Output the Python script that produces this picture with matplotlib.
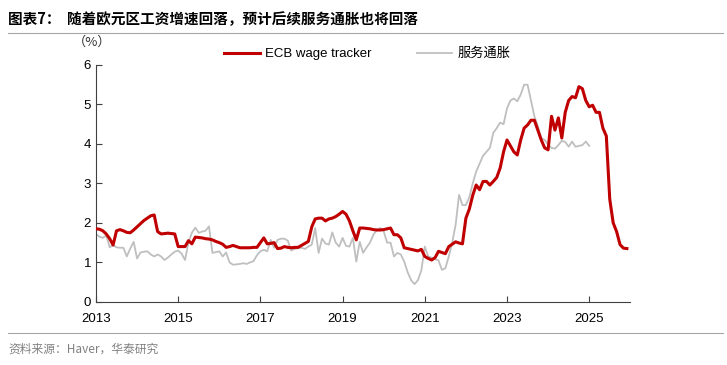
import numpy as np
import matplotlib.pyplot as plt

plt.rcParams['font.family'] = ['Liberation Sans', 'Noto Sans CJK SC', 'DejaVu Sans']

title = "图表7：  随着欧元区工资增速回落，预计后续服务通胀也将回落"
source = "资料来源：Haver，华泰研究"
label_wage = "ECB wage tracker"
label_serv = "服务通胀"

# monthly values, Jan 2013 onwards (%)
wage = [
    1.85, 1.84, 1.80, 1.72, 1.60, 1.44, 1.80, 1.83, 1.80, 1.76, 1.75, 1.82,  # 2013
    1.90, 1.98, 2.06, 2.12, 2.18, 2.20, 1.78, 1.72, 1.73, 1.74, 1.73, 1.72,  # 2014
    1.40, 1.40, 1.40, 1.55, 1.47, 1.64, 1.63, 1.62, 1.60, 1.59, 1.57, 1.53,  # 2015
    1.50, 1.46, 1.38, 1.40, 1.43, 1.40, 1.37, 1.37, 1.37, 1.37, 1.38, 1.38,  # 2016
    1.50, 1.62, 1.47, 1.48, 1.50, 1.35, 1.36, 1.40, 1.38, 1.37, 1.38, 1.38,  # 2017
    1.43, 1.48, 1.53, 1.90, 2.10, 2.12, 2.12, 2.05, 2.10, 2.12, 2.16, 2.22,  # 2018
    2.29, 2.22, 2.05, 1.80, 1.57, 1.87, 1.87, 1.86, 1.85, 1.83, 1.82, 1.82,  # 2019
    1.83, 1.85, 1.87, 1.70, 1.70, 1.62, 1.37, 1.35, 1.33, 1.31, 1.29, 1.33,  # 2020
    1.15, 1.10, 1.06, 1.12, 1.28, 1.25, 1.22, 1.40, 1.46, 1.52, 1.49, 1.47,  # 2021
    2.12, 2.35, 2.70, 2.96, 2.84, 3.05, 3.05, 2.96, 3.05, 3.15, 3.39, 3.80,  # 2022
    4.10, 3.95, 3.80, 3.72, 4.10, 4.40, 4.48, 4.60, 4.60, 4.35, 4.10, 3.90,  # 2023
    3.85, 4.70, 4.35, 4.66, 4.15, 4.80, 5.10, 5.20, 5.17, 5.45, 5.40, 5.10,  # 2024
    4.94, 4.98, 4.80, 4.80, 4.40, 4.20, 2.60, 2.00, 1.78, 1.45, 1.36, 1.35,  # 2025
]

services = [
    1.72, 1.65, 1.62, 1.68, 1.38, 1.44, 1.38, 1.37, 1.37, 1.15, 1.35, 1.52,  # 2013
    1.10, 1.25, 1.27, 1.28, 1.20, 1.15, 1.20, 1.15, 1.06, 1.12, 1.20, 1.27,  # 2014
    1.30, 1.22, 1.06, 1.50, 1.75, 1.88, 1.75, 1.78, 1.80, 1.91, 1.24, 1.26,  # 2015
    1.28, 1.15, 1.25, 1.00, 0.94, 0.95, 0.96, 0.98, 0.96, 1.00, 1.03, 1.18,  # 2016
    1.28, 1.32, 1.28, 1.57, 1.37, 1.57, 1.60, 1.60, 1.55, 1.30, 1.34, 1.36,  # 2017
    1.37, 1.34, 1.40, 1.45, 1.87, 1.24, 1.60, 1.48, 1.45, 1.76, 1.50, 1.40,  # 2018
    1.62, 1.42, 1.40, 1.62, 1.02, 1.52, 1.24, 1.38, 1.50, 1.70, 1.82, 1.87,  # 2019
    1.79, 1.50, 1.50, 1.15, 1.24, 1.20, 1.02, 0.75, 0.55, 0.45, 0.55, 0.80,  # 2020
    1.40, 1.15, 1.12, 1.08, 1.05, 0.81, 0.85, 1.15, 1.50, 1.95, 2.71, 2.45,  # 2021
    2.45, 2.65, 3.00, 3.30, 3.50, 3.70, 3.80, 3.90, 4.28, 4.40, 4.54, 4.50,  # 2022
    4.90, 5.10, 5.15, 5.08, 5.25, 5.50, 5.50, 5.10, 4.70, 4.45, 4.15, 4.10,  # 2023
    3.98, 3.90, 3.88, 3.97, 4.08, 4.05, 3.93, 4.06, 3.93, 3.95, 3.97, 4.06,  # 2024
    3.95,                                                                    # 2025
]

x_wage = 2013 + np.arange(len(wage)) / 12
x_serv = 2013 + np.arange(len(services)) / 12

fig = plt.figure(figsize=(7.27, 3.65), dpi=100)
ax = fig.add_axes([0.132, 0.173, 0.735, 0.649])

ax.plot(x_serv, services, color='#BFBFBF', lw=1.3, label=label_serv, zorder=2)
ax.plot(x_wage, wage, color='#C00000', lw=2.2, label=label_wage, zorder=3)

ax.set_xlim(2013, 2026)
ax.set_ylim(0, 6)
ax.set_xticks(range(2013, 2026, 2))
ax.set_yticks(range(0, 7))
ax.tick_params(direction='in', length=4, labelsize=9.5, color='#404040')
ax.tick_params(axis='x', pad=8)
for s in ['top', 'right']:
    ax.spines[s].set_visible(False)
for s in ['left', 'bottom']:
    ax.spines[s].set_color('#404040')

# legend: red first, gray second
h, l = ax.get_legend_handles_labels()
leg = ax.legend(h[::-1], l[::-1], ncol=2, frameon=False, fontsize=9.5,
                loc='lower left', bbox_to_anchor=(0.218, 0.97),
                handlelength=2.7, columnspacing=3.4, handletextpad=0.4)

fig.text(0.100, 0.875, "（%）", fontsize=9.5, color='#333333',
         family=['Noto Sans CJK SC', 'DejaVu Sans'])

# title and source
fig.text(0.011, 0.948, title, fontsize=10.5, fontweight='bold',
         family=['Noto Sans CJK SC', 'DejaVu Sans'], va='center')
fig.add_artist(plt.Line2D([0.011, 0.995], [0.91, 0.91], color='#A6A6A6', lw=0.8))
fig.add_artist(plt.Line2D([0.011, 0.995], [0.088, 0.088], color='#A6A6A6', lw=0.8))
fig.text(0.011, 0.043, source, fontsize=8.5, color='#808080',
         family=['Noto Sans CJK SC', 'DejaVu Sans'], va='center')

fig.savefig('out.png', dpi=100)
